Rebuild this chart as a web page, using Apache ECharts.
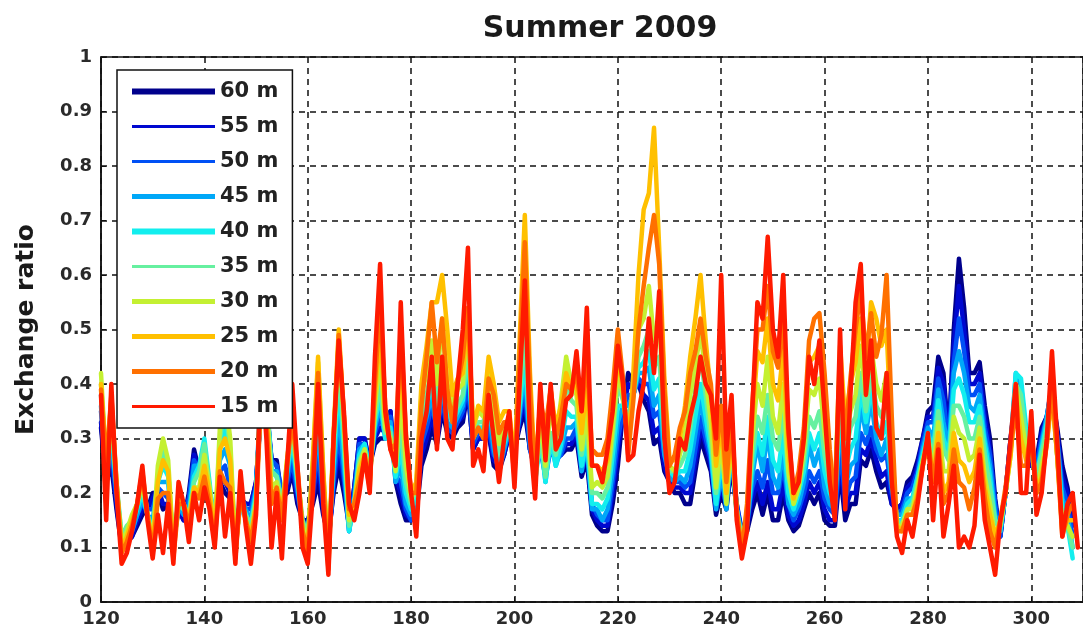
<!DOCTYPE html>
<html>
<head>
<meta charset="utf-8">
<script src="https://cdn.jsdelivr.net/npm/echarts@6/dist/echarts.min.js"></script>
<style>
html,body{margin:0;padding:0;background:#fff;}
#chart{width:1083px;height:634px;}
</style>
</head>
<body>
<div id="chart"></div>
<script>
// Sample days (day of year)
const days = [120,121,122,123,124,125,126,127,128,129,130,131,132,133,134,135,136,137,138,139,
140,141,142,143,144,145,146,147,148,149,150,151,152,153,154,155,156,157,158,159,
160,161,162,163,164,165,166,167,168,169,170,171,172,173,174,175,176,177,178,179,
180,181,182,183,184,185,186,187,188,189,190,191,192,193,194,195,196,197,198,199,
200,201,202,203,204,205,206,207,208,209,210,211,212,213,214,215,216,217,218,219,
220,221,222,223,224,225,226,227,228,229,230,231,232,233,234,235,236,237,238,239,
240,241,242,243,244,245,246,247,248,249,250,251,252,253,254,255,256,257,258,259,
260,261,262,263,264,265,266,267,268,269,270,271,272,273,274,275,276,277,278,279,
280,281,282,283,284,285,286,287,288,289,290,291,292,293,294,295,296,297,298,299,
300,301,302,303,304,305,306,307,308,309];

const seriesNames = ['60 m','55 m','50 m','45 m','40 m','35 m','30 m','25 m','20 m','15 m'];

const d60 = [.32,.22,.25,.17,.10,.11,.12,.14,.16,.17,
.20,.20,.17,.18,.12,.17,.15,.20,.28,.24,
.24,.20,.15,.22,.20,.19,.12,.19,.18,.18,
.22,.36,.35,.26,.26,.19,.20,.24,.18,.15,
.15,.18,.22,.16,.12,.20,.25,.20,.14,.21,
.30,.30,.25,.29,.30,.30,.35,.22,.18,.15,
.15,.16,.25,.28,.32,.29,.35,.31,.30,.32,
.33,.39,.28,.30,.30,.31,.25,.24,.27,.31,
.28,.32,.35,.28,.26,.30,.24,.30,.28,.27,
.28,.28,.30,.23,.26,.16,.14,.13,.13,.18,
.25,.35,.42,.40,.40,.37,.35,.29,.30,.24,
.22,.20,.20,.18,.18,.24,.30,.27,.24,.16,
.20,.17,.25,.17,.13,.13,.17,.20,.16,.20,
.15,.15,.20,.15,.13,.14,.17,.20,.18,.20,
.15,.14,.14,.24,.15,.18,.18,.26,.25,.28,
.24,.21,.22,.18,.17,.18,.22,.23,.26,.30,
.35,.36,.45,.42,.30,.50,.63,.54,.42,.42,
.44,.36,.30,.19,.12,.20,.30,.38,.36,.28,
.25,.26,.32,.34,.38,.32,.25,.21,.15];
const d55 = [.33,.23,.27,.18,.10,.11,.12,.15,.17,.17,
.19,.21,.18,.18,.12,.17,.15,.19,.27,.24,
.25,.20,.15,.23,.22,.20,.12,.19,.18,.18,
.22,.36,.36,.26,.25,.19,.21,.25,.19,.15,
.14,.19,.25,.17,.11,.21,.28,.22,.14,.21,
.30,.30,.25,.30,.32,.31,.35,.23,.20,.16,
.15,.17,.27,.30,.34,.30,.36,.32,.31,.33,
.34,.39,.28,.30,.30,.31,.26,.25,.27,.31,
.28,.33,.37,.28,.25,.30,.24,.30,.27,.27,
.29,.29,.31,.24,.27,.17,.15,.14,.14,.20,
.28,.35,.40,.39,.40,.38,.37,.31,.32,.25,
.22,.21,.21,.20,.20,.26,.32,.29,.25,.17,
.21,.18,.26,.18,.13,.14,.19,.22,.18,.22,
.17,.17,.22,.16,.14,.15,.18,.22,.20,.22,
.17,.15,.15,.26,.17,.20,.20,.28,.27,.30,
.26,.23,.24,.18,.17,.18,.21,.22,.25,.30,
.34,.34,.43,.40,.30,.47,.58,.50,.40,.40,
.42,.34,.28,.18,.12,.20,.30,.38,.37,.29,
.25,.25,.31,.34,.39,.31,.23,.20,.14];
const d50 = [.35,.25,.28,.19,.11,.12,.13,.16,.18,.17,
.17,.21,.20,.19,.11,.17,.16,.19,.26,.24,
.26,.20,.14,.24,.25,.21,.11,.18,.17,.17,
.21,.36,.37,.26,.25,.20,.22,.26,.20,.15,
.13,.20,.28,.18,.11,.22,.31,.23,.13,.20,
.29,.29,.25,.31,.34,.31,.34,.23,.22,.17,
.15,.18,.29,.32,.36,.32,.37,.32,.31,.33,
.35,.40,.29,.31,.31,.32,.27,.26,.28,.31,
.28,.34,.39,.28,.24,.28,.23,.28,.26,.27,
.30,.30,.32,.25,.28,.18,.16,.15,.15,.22,
.30,.35,.38,.38,.41,.40,.40,.34,.35,.27,
.23,.22,.22,.21,.22,.28,.34,.30,.26,.18,
.22,.19,.27,.18,.12,.15,.21,.24,.21,.26,
.20,.20,.25,.18,.15,.17,.20,.24,.22,.24,
.19,.17,.16,.28,.19,.22,.23,.31,.29,.32,
.28,.26,.27,.20,.16,.17,.20,.21,.24,.29,
.33,.33,.41,.37,.29,.44,.52,.46,.38,.38,
.40,.32,.27,.18,.12,.20,.29,.38,.38,.30,
.26,.25,.30,.34,.40,.30,.21,.18,.12];
const d45 = [.36,.22,.30,.20,.11,.12,.13,.16,.19,.16,
.15,.22,.22,.22,.11,.18,.16,.17,.25,.25,
.28,.21,.14,.26,.28,.25,.11,.20,.17,.15,
.21,.40,.38,.24,.24,.18,.23,.29,.21,.14,
.13,.22,.32,.19,.10,.24,.35,.25,.13,.19,
.28,.29,.24,.32,.36,.30,.33,.22,.25,.18,
.16,.18,.31,.34,.38,.31,.40,.33,.32,.34,
.36,.45,.30,.32,.31,.35,.28,.24,.28,.32,
.27,.35,.42,.29,.23,.31,.22,.30,.25,.28,
.32,.32,.33,.24,.29,.17,.17,.15,.17,.24,
.33,.36,.36,.38,.42,.42,.43,.36,.38,.27,
.23,.22,.23,.22,.25,.31,.37,.32,.27,.17,
.24,.17,.28,.16,.12,.14,.23,.29,.24,.31,
.23,.21,.28,.18,.16,.18,.22,.29,.25,.28,
.21,.18,.17,.34,.21,.25,.26,.36,.31,.37,
.30,.27,.30,.21,.16,.16,.19,.19,.23,.28,
.32,.30,.39,.33,.28,.42,.46,.42,.36,.35,
.38,.30,.25,.16,.13,.20,.29,.42,.40,.30,
.27,.23,.29,.34,.40,.30,.19,.16,.10];
const d40 = [.38,.24,.32,.21,.12,.13,.14,.17,.20,.16,
.13,.22,.25,.23,.10,.18,.17,.16,.23,.25,
.30,.22,.13,.28,.32,.26,.10,.19,.16,.14,
.20,.39,.38,.24,.23,.18,.24,.30,.22,.14,
.12,.23,.36,.21,.09,.26,.40,.28,.13,.18,
.27,.29,.24,.33,.38,.30,.32,.23,.28,.20,
.17,.19,.33,.36,.40,.33,.42,.35,.33,.35,
.37,.46,.30,.32,.32,.36,.30,.26,.29,.32,
.27,.36,.45,.30,.22,.30,.22,.30,.25,.29,
.35,.34,.34,.25,.30,.18,.18,.17,.19,.27,
.36,.36,.34,.38,.43,.44,.46,.39,.41,.29,
.24,.23,.24,.24,.28,.34,.40,.34,.28,.18,
.26,.19,.29,.17,.12,.15,.25,.31,.27,.34,
.26,.24,.31,.20,.17,.20,.24,.31,.28,.31,
.24,.20,.18,.36,.24,.28,.30,.39,.33,.39,
.33,.30,.33,.22,.15,.15,.18,.19,.23,.27,
.31,.28,.37,.30,.27,.39,.41,.38,.33,.33,
.36,.29,.23,.15,.13,.20,.28,.42,.41,.32,
.28,.23,.28,.33,.40,.29,.17,.14,.08];
const d35 = [.40,.26,.34,.22,.12,.14,.15,.18,.21,.16,
.12,.23,.28,.24,.10,.18,.17,.16,.22,.24,
.29,.21,.13,.30,.36,.28,.10,.19,.16,.14,
.19,.39,.38,.24,.23,.18,.25,.31,.23,.15,
.12,.25,.40,.23,.09,.28,.44,.30,.14,.18,
.26,.28,.23,.34,.40,.31,.31,.25,.32,.22,
.18,.21,.35,.38,.43,.36,.45,.37,.34,.36,
.38,.47,.31,.33,.33,.38,.32,.27,.30,.32,
.26,.38,.50,.32,.22,.31,.23,.31,.27,.33,
.40,.37,.36,.27,.32,.20,.20,.19,.21,.30,
.40,.37,.32,.38,.45,.47,.50,.43,.45,.31,
.24,.24,.25,.27,.32,.39,.45,.38,.30,.20,
.28,.20,.30,.17,.11,.15,.27,.34,.31,.38,
.30,.28,.35,.23,.18,.21,.26,.34,.32,.35,
.27,.22,.19,.38,.27,.32,.34,.42,.35,.42,
.36,.34,.37,.24,.15,.14,.17,.18,.22,.26,
.30,.27,.35,.28,.26,.36,.36,.34,.30,.30,
.34,.27,.21,.15,.14,.20,.28,.40,.38,.30,
.28,.23,.27,.32,.39,.27,.15,.14,.10];
const d30 = [.42,.25,.35,.21,.11,.13,.16,.18,.22,.16,
.11,.25,.30,.26,.10,.19,.18,.15,.21,.21,
.27,.21,.12,.32,.38,.30,.09,.20,.15,.12,
.18,.41,.37,.21,.22,.16,.26,.34,.24,.14,
.11,.26,.44,.24,.08,.30,.48,.33,.15,.18,
.25,.28,.23,.36,.45,.32,.30,.24,.38,.25,
.19,.21,.38,.42,.48,.40,.52,.40,.36,.39,
.40,.52,.32,.35,.34,.42,.35,.29,.32,.34,
.26,.42,.58,.35,.22,.34,.25,.36,.30,.37,
.45,.40,.38,.28,.35,.21,.22,.21,.23,.32,
.42,.38,.30,.38,.50,.52,.58,.48,.52,.34,
.25,.24,.27,.31,.38,.43,.50,.41,.33,.21,
.30,.18,.31,.16,.11,.16,.30,.40,.36,.45,
.34,.31,.40,.24,.18,.21,.28,.39,.38,.41,
.31,.24,.20,.45,.30,.35,.38,.47,.38,.47,
.40,.37,.42,.25,.14,.14,.17,.17,.21,.26,
.30,.24,.33,.24,.24,.34,.31,.30,.26,.27,
.32,.23,.18,.12,.14,.20,.27,.40,.34,.28,
.29,.20,.25,.30,.38,.27,.14,.14,.12];
const d25 = [.40,.25,.37,.22,.10,.12,.15,.18,.23,.16,
.10,.22,.26,.24,.09,.19,.18,.15,.21,.20,
.25,.20,.12,.28,.30,.26,.09,.20,.15,.12,
.18,.40,.35,.19,.21,.16,.26,.34,.24,.13,
.10,.26,.45,.24,.07,.31,.50,.34,.16,.18,
.24,.27,.22,.38,.50,.34,.29,.27,.45,.29,
.20,.22,.40,.47,.55,.55,.60,.50,.38,.41,
.42,.53,.32,.36,.35,.45,.40,.33,.35,.35,
.25,.48,.71,.42,.23,.37,.30,.39,.32,.36,
.42,.39,.40,.31,.40,.25,.25,.24,.26,.35,
.45,.39,.28,.42,.60,.72,.75,.87,.65,.41,
.26,.26,.30,.36,.45,.52,.60,.48,.38,.25,
.33,.20,.32,.16,.10,.17,.33,.46,.44,.52,
.40,.37,.46,.28,.19,.23,.30,.44,.45,.47,
.36,.26,.20,.47,.33,.40,.44,.52,.42,.55,
.52,.47,.50,.29,.14,.13,.16,.16,.20,.25,
.29,.22,.31,.20,.22,.31,.26,.25,.22,.24,
.30,.21,.16,.12,.15,.20,.27,.38,.30,.26,
.30,.20,.23,.29,.38,.27,.13,.15,.15];
const d20 = [.39,.25,.38,.22,.09,.11,.14,.18,.24,.16,
.09,.19,.20,.20,.08,.18,.18,.14,.20,.19,
.23,.18,.11,.24,.22,.21,.08,.20,.15,.11,
.17,.38,.33,.18,.21,.15,.25,.34,.25,.13,
.09,.24,.42,.22,.06,.30,.49,.34,.17,.18,
.22,.26,.21,.40,.55,.36,.28,.29,.50,.31,
.20,.20,.36,.45,.55,.44,.52,.39,.33,.40,
.45,.54,.30,.32,.30,.41,.38,.31,.33,.33,
.23,.45,.66,.39,.22,.37,.32,.39,.30,.34,
.40,.39,.42,.35,.45,.28,.27,.27,.30,.39,
.50,.41,.27,.37,.50,.58,.65,.71,.62,.39,
.25,.27,.32,.35,.42,.46,.52,.45,.40,.27,
.36,.22,.34,.17,.09,.18,.36,.50,.50,.58,
.46,.43,.52,.31,.20,.24,.32,.48,.52,.53,
.42,.28,.18,.44,.30,.41,.50,.57,.45,.53,
.45,.49,.60,.34,.13,.13,.16,.16,.19,.25,
.30,.22,.29,.18,.20,.28,.22,.21,.17,.21,
.28,.19,.13,.10,.15,.21,.28,.36,.25,.25,
.32,.20,.22,.29,.40,.27,.12,.16,.18];
const d15 = [.38,.15,.40,.20,.07,.09,.13,.18,.25,.15,
.08,.16,.09,.18,.07,.22,.18,.11,.20,.15,
.21,.17,.10,.23,.12,.20,.07,.24,.14,.07,
.16,.45,.30,.10,.20,.08,.25,.40,.25,.10,
.07,.20,.40,.18,.05,.30,.48,.35,.18,.15,
.20,.27,.20,.45,.62,.35,.28,.25,.55,.30,
.20,.12,.30,.35,.45,.28,.45,.30,.28,.40,
.50,.65,.25,.28,.24,.38,.30,.22,.30,.35,
.21,.40,.59,.30,.19,.40,.26,.40,.28,.30,
.37,.38,.46,.35,.54,.25,.25,.22,.28,.35,
.47,.40,.26,.27,.35,.40,.52,.42,.57,.30,
.20,.22,.30,.28,.34,.38,.45,.40,.38,.30,
.60,.28,.38,.15,.08,.13,.35,.55,.52,.67,
.50,.45,.60,.32,.20,.22,.30,.45,.40,.48,
.35,.22,.15,.50,.17,.38,.55,.62,.38,.48,
.32,.30,.42,.22,.12,.09,.15,.12,.18,.25,
.31,.15,.28,.12,.18,.25,.10,.12,.10,.14,
.27,.15,.10,.05,.15,.20,.30,.40,.20,.20,
.35,.16,.20,.30,.46,.30,.12,.18,.20,.10];

const seriesValues = [d60,d55,d50,d45,d40,d35,d30,d25,d20,d15];

// styles
const colors = ['#00008c','#0008d0','#0050f5','#00a8f8','#12eeee','#66f0a0','#c4f032','#ffc000','#ff7000','#ff1a00'];
const legendWidths = [6,3,3,5,6,3,5,5,5,3];

const chart = echarts.init(document.getElementById('chart'), null, {renderer:'canvas'});
const FONT = '"DejaVu Sans", Verdana, sans-serif';

const series = seriesNames.map((name, k) => ({
  name: name,
  type: 'line',
  showSymbol: false,
  symbol: 'none',
  animation: false,
  data: seriesValues[k].map((v, i) => [days[i], v]),
  lineStyle: { color: colors[k], width: 4.5, join: 'round', cap: 'round' },
  itemStyle: { color: colors[k] },
  z: 2 + k
}));

chart.setOption({
  animation: false,
  backgroundColor: '#ffffff',
  title: {
    text: 'Summer 2009',
    left: 595, top: 9, textAlign: 'center',
    textStyle: { fontFamily: FONT, fontWeight: 'bold', fontSize: 30, color: '#1a1a1a' }
  },
  grid: {
    left: 101, top: 57, right: -6, bottom: 32,
    show: true, borderColor: '#111', borderWidth: 1.5, backgroundColor: 'transparent'
  },
  legend: {
    orient: 'vertical',
    left: 117, top: 70,
    padding: [11, 14, 11, 15],
    itemGap: 14,
    itemWidth: 83,
    itemHeight: 14,
    backgroundColor: '#ffffff',
    borderColor: '#111',
    borderWidth: 1.5,
    selectedMode: false,
    textStyle: { fontFamily: FONT, fontWeight: 'bold', fontSize: 21, color: '#222', lineHeight: 20 },
    data: seriesNames.map((n, k) => ({
      name: n,
      icon: 'path://M0,0 L83,0 L83,' + legendWidths[k] + ' L0,' + legendWidths[k] + ' Z',
      itemStyle: { color: colors[k] }
    })),
    z: 20
  },
  xAxis: {
    type: 'value',
    min: 120, max: 310, interval: 20,
    axisLine: { show: true, lineStyle: { color: '#111', width: 1.5 } },
    axisTick: { show: true, inside: true, length: 5, lineStyle: { color: '#111' } },
    axisLabel: { fontFamily: FONT, fontWeight: 'bold', fontSize: 18, color: '#2a2a2a', margin: 8, showMaxLabel: false },
    splitLine: { show: true, lineStyle: { color: '#111', width: 1.5, type: [6, 5] } }
  },
  yAxis: {
    type: 'value',
    min: 0, max: 1, interval: 0.1,
    name: 'Exchange ratio',
    nameLocation: 'middle',
    nameGap: 62,
    nameTextStyle: { fontFamily: FONT, fontWeight: 'bold', fontSize: 25, color: '#1a1a1a' },
    axisLine: { show: true, lineStyle: { color: '#111', width: 1.5 } },
    axisTick: { show: true, inside: true, length: 5, lineStyle: { color: '#111' } },
    axisLabel: { fontFamily: FONT, fontWeight: 'bold', fontSize: 18, color: '#2a2a2a', margin: 9 },
    splitLine: { show: true, lineStyle: { color: '#111', width: 1.5, type: [6, 5] } }
  },
  series: series
});
</script>
</body>
</html>
